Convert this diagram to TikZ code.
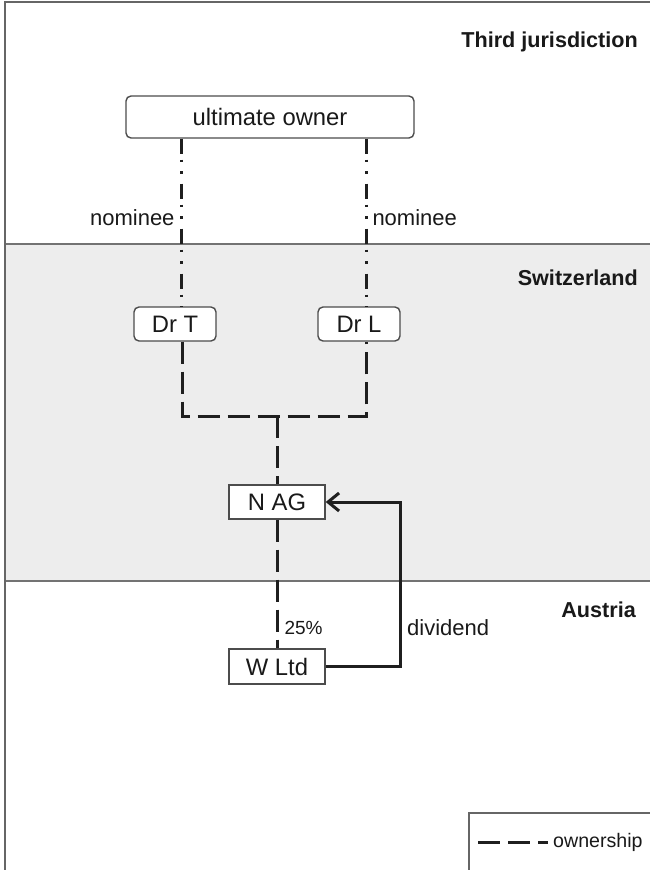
\documentclass[tikz,border=0pt]{standalone}
\usepackage{fontspec}
\setmainfont{Liberation Sans}
\usetikzlibrary{arrows.meta}

\begin{document}
\begin{tikzpicture}
  [x=1pt, y=-1pt,
   box/.style={draw=black!70, line width=1.4pt, fill=white, minimum height=34pt, inner sep=0pt, text=black!90, font=\fontsize{23.8}{28}\selectfont},
   rbox/.style={box, rounded corners=5pt},
   own/.style={line width=3pt, black!88, dash pattern=on 22pt off 8pt},
   nom/.style={line width=3pt, black!88, dash pattern=on 15pt off 6pt on 2.5pt off 9pt on 2.5pt off 10pt},
   lbl/.style={text=black!90, inner sep=0pt, font=\fontsize{22}{26}\selectfont},
   region/.style={text=black!90, inner sep=0pt, anchor=base east, font={\fontsize{21.6}{26}\selectfont\bfseries}}]
  \useasboundingbox (0,0) rectangle (650,870);

  % jurisdictions
  \fill[black!7] (5,244) rectangle (650,581);
  \draw[black!55, line width=1.6pt] (5,244) -- (650,244) (5,581) -- (650,581);
  \draw[black!60, line width=2.2pt] (5,870) -- (5,2) -- (650,2);
  \node[region] (third) at (638,47) {Third jurisdiction};
  \node[region] (swiss) at (638,285) {Switzerland};
  \node[region] (austria) at (636,617) {Austria};

  \node[rbox, minimum width=288pt, minimum height=42pt] (owner) at (270,117) {ultimate owner};
  \node[rbox, minimum width=82pt] (drt) at (175,324) {Dr T};
  \node[rbox, minimum width=82pt] (drl) at (359,324) {Dr L};
  \node[box, minimum width=96pt] (nag) at (277,502) {N AG};
  \node[box, minimum width=96pt, minimum height=35pt] (wltd) at (277,666.5) {W Ltd};
  \coordinate (join) at (277,416);

  \draw[nom] ([xshift=6pt]drt.north |- owner.south) -- node[lbl, pos=.47, anchor=east, xshift=-5pt] (nomt) {nominee} ([xshift=6pt]drt.north);
  \draw[nom] ([xshift=7pt]drl.north |- owner.south) -- node[lbl, pos=.47, anchor=west, xshift=5pt] (noml) {nominee} ([xshift=7pt]drl.north);

  \draw[own] ([xshift=7pt]drt.south) |- (join) -| ([xshift=7pt]drl.south);
  \draw[own] (join) -- (nag.north);
  \draw[own] (nag.south) -- node[lbl, pos=.84, anchor=west, xshift=6pt, font=\fontsize{19}{22}\selectfont] (pct) {25\%} (wltd.north);

  \draw[line width=3pt, black!88, -{Straight Barb[length=11pt, width=18pt]}] (wltd.east) -| ([xshift=75pt]nag.east) -- (nag.east);
  \node[lbl, anchor=base west] (div) at (407,635) {dividend};

  % legend
  \draw[black!60, line width=1.6pt] (469,870) |- (650,813);
  \draw[own] (478,842) -- (548,842);
  \node[lbl, anchor=west, font=\fontsize{19.6}{23}\selectfont] (legtxt) at (553,842) {ownership};
\end{tikzpicture}
\end{document}
